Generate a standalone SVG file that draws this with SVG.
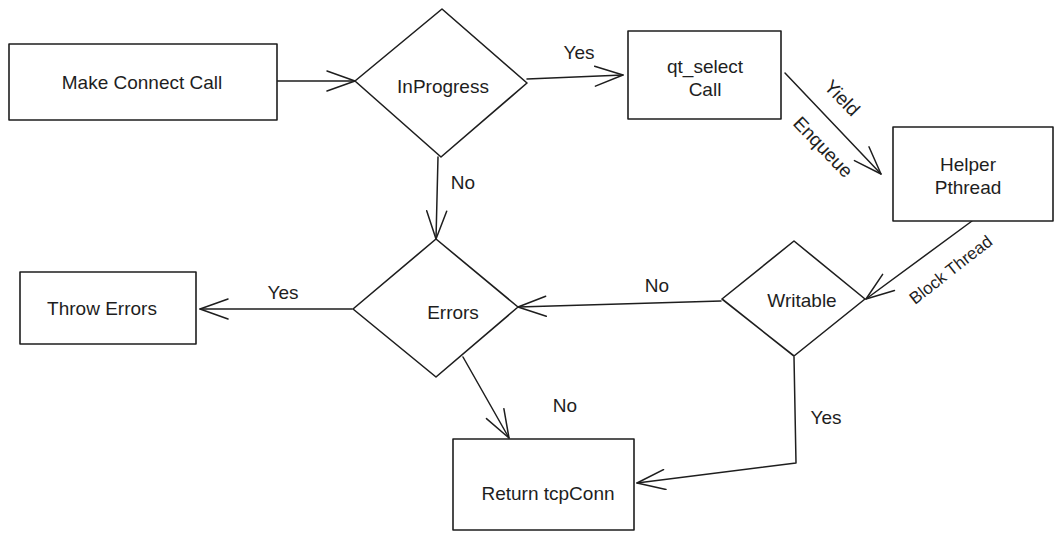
<svg xmlns="http://www.w3.org/2000/svg" width="1063" height="540" viewBox="0 0 1063 540">
<style>
.shape{fill:#ffffff;stroke:#1e1e1e;stroke-width:1.6;stroke-linejoin:round}
.edge{fill:none;stroke:#1e1e1e;stroke-width:1.5;stroke-linecap:round;stroke-linejoin:round}
text{font-family:"Liberation Sans","Noto Sans",sans-serif;font-size:19px;fill:#1e1e1e;text-anchor:middle;dominant-baseline:central}
.small{font-size:17px}
</style>
<defs>
<marker id="arr" viewBox="0 0 30 22" refX="29" refY="11" markerWidth="30" markerHeight="22" markerUnits="userSpaceOnUse" orient="auto">
<path d="M1,1 L29,11 L1,21" fill="none" stroke="#1e1e1e" stroke-width="1.5" stroke-linecap="round" stroke-linejoin="round"/>
</marker>
</defs>
<rect width="1063" height="540" fill="#ffffff"/>
<g id="connectors">
<path class="edge" d="M277,81 L355,81" marker-end="url(#arr)"/>
<path class="edge" d="M527,79 L623,75" marker-end="url(#arr)"/>
<path class="edge" d="M785,73 L881,174" marker-end="url(#arr)"/>
<path class="edge" d="M972,221 L866,299" marker-end="url(#arr)"/>
<path class="edge" d="M438,157 L436,239" marker-end="url(#arr)"/>
<path class="edge" d="M721,301 L518,307" marker-end="url(#arr)"/>
<path class="edge" d="M352,309 L200,309" marker-end="url(#arr)"/>
<path class="edge" d="M463,357 L509,438" marker-end="url(#arr)"/>
<path class="edge" d="M794,357 L796,463 L637,483" marker-end="url(#arr)"/>
<text x="579" y="52">Yes</text>
<text x="463" y="182">No</text>
<text x="842" y="98" transform="rotate(46 842 98)">Yield</text>
<text x="823" y="147" transform="rotate(46 823 147)">Enqueue</text>
<text class="small" x="951" y="270" transform="rotate(-38 951 270)">Block Thread</text>
<text x="657" y="285">No</text>
<text x="283" y="292">Yes</text>
<text x="565" y="405">No</text>
<text x="826" y="417">Yes</text>
</g>
<g id="make-connect-call">
<rect class="shape" x="9" y="44" width="268" height="76"/>
<text x="142" y="82">Make Connect Call</text>
</g>
<g id="inprogress">
<polygon class="shape" points="442,9 527,83 441,157 355,81"/>
<text x="443" y="86">InProgress</text>
</g>
<g id="qt-select-call">
<rect class="shape" x="628" y="31" width="153" height="88"/>
<text x="705" y="66">qt_select</text>
<text x="705" y="89">Call</text>
</g>
<g id="helper-pthread">
<rect class="shape" x="893" y="127" width="160" height="94"/>
<text x="968" y="164">Helper</text>
<text x="968" y="187">Pthread</text>
</g>
<g id="writable">
<polygon class="shape" points="794,241 865,299 794,356 722,299"/>
<text x="802" y="300">Writable</text>
</g>
<g id="errors">
<polygon class="shape" points="436,239 518,307 436,377 353,309"/>
<text x="453" y="312">Errors</text>
</g>
<g id="throw-errors">
<rect class="shape" x="20" y="272" width="176" height="72"/>
<text x="102" y="308">Throw Errors</text>
</g>
<g id="return-tcpconn">
<rect class="shape" x="453" y="439" width="181" height="91"/>
<text x="548" y="493">Return tcpConn</text>
</g>
</svg>
